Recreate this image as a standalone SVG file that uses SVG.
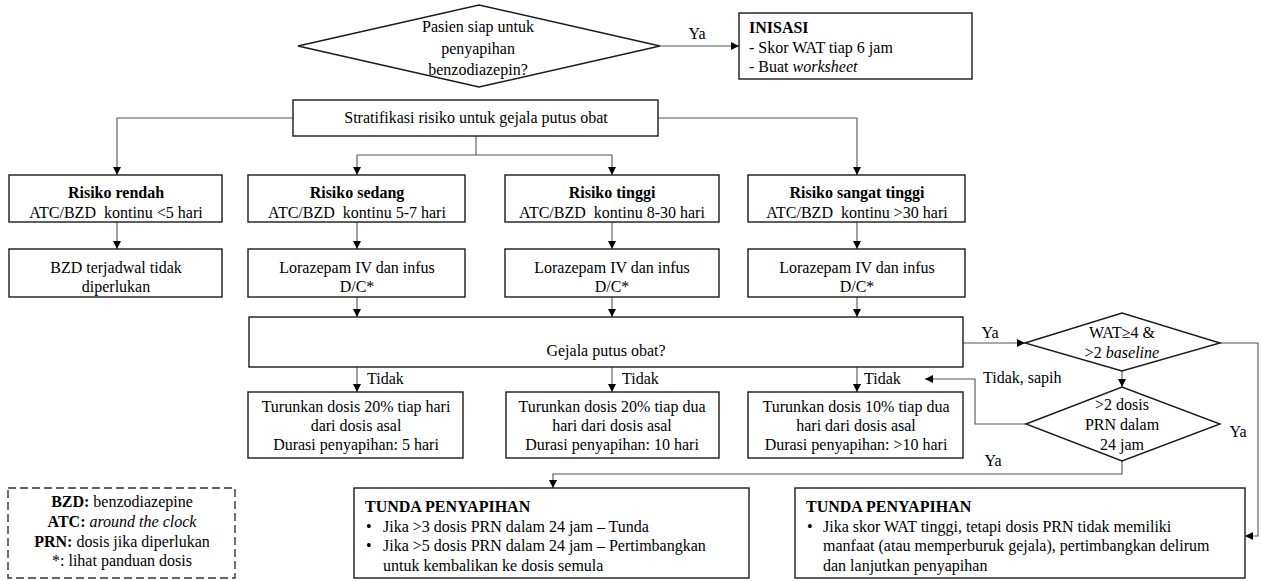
<svg xmlns="http://www.w3.org/2000/svg" width="1261" height="581" viewBox="0 0 1261 581" font-family="'Liberation Serif', 'DejaVu Serif', serif">
<defs>
<marker id="arr" viewBox="0 0 10 10" refX="10" refY="5" markerWidth="8" markerHeight="8" markerUnits="userSpaceOnUse" orient="auto">
<path d="M0,0 L10,5 L0,10 z" fill="#000"/>
</marker>
<style>
.box{fill:#fff;stroke:#1a1a1a;stroke-width:1.4}
.dash{fill:#fff;stroke:#333;stroke-width:1.4;stroke-dasharray:8 4}
.c{fill:none;stroke:#555;stroke-width:1.1;marker-end:url(#arr)}
.l{fill:none;stroke:#555;stroke-width:1.1}
text{font-family:'Liberation Serif','DejaVu Serif',serif;font-size:16px;fill:#000}
.m{text-anchor:middle}
.b{font-weight:bold}
.i{font-style:italic}
</style>
</defs>
<rect width="1261" height="581" fill="#fff"/>

<g id="connectors">
<path class="c" d="M660,46 L739,46"/>
<path class="c" d="M293,118 L117,118 L117,175"/>
<path class="c" d="M658,118 L857,118 L857,175"/>
<path class="l" d="M476,136 L476,155"/>
<path class="c" d="M476,155 L357,155 L357,175"/>
<path class="c" d="M476,155 L612,155 L612,175"/>
<path class="c" d="M117,222 L117,249"/>
<path class="c" d="M357,222 L357,249"/>
<path class="c" d="M612,222 L612,249"/>
<path class="c" d="M857,222 L857,249"/>
<path class="c" d="M357,297 L357,317"/>
<path class="c" d="M612,297 L612,317"/>
<path class="c" d="M857,297 L857,317"/>
<path class="c" d="M357,367 L357,392"/>
<path class="c" d="M612,367 L612,392"/>
<path class="c" d="M857,367 L857,392"/>
<path class="c" d="M963,343 L1025,343"/>
<path class="c" d="M1122,371 L1122,387"/>
<path class="c" d="M1220,343 L1258,343 L1258,536 L1245,536"/>
<path class="c" d="M1026,424 L975,424 L975,379 L925,379"/>
<path class="c" d="M1122,461 L1122,474 L553,474 L553,488"/>
<text x="697" y="39" class="m">Ya</text>
<text x="367" y="384">Tidak</text>
<text x="622" y="384">Tidak</text>
<text x="864" y="384">Tidak</text>
<text x="990" y="338" class="m">Ya</text>
<text x="983" y="383">Tidak, sapih</text>
<text x="1238" y="437" class="m">Ya</text>
<text x="993" y="466" class="m">Ya</text>
</g>

<g id="start">
<polygon class="box" points="298,46 479,5 660,46 479,87"/>
<text x="478" y="32" class="m">Pasien siap untuk</text>
<text x="478" y="54" class="m">penyapihan</text>
<text x="478" y="75" class="m">benzodiazepin?</text>
</g>

<g id="inisasi">
<rect class="box" x="739" y="13" width="233" height="66"/>
<text x="749" y="33" class="b">INISASI</text>
<text x="749" y="53">- Skor WAT tiap 6 jam</text>
<text x="749" y="72">- Buat <tspan class="i">worksheet</tspan></text>
</g>

<g id="stratifikasi">
<rect class="box" x="293" y="100" width="365" height="36"/>
<text x="476" y="123" class="m">Stratifikasi risiko untuk gejala putus obat</text>
</g>

<g id="risiko-rendah">
<rect class="box" x="9" y="175" width="213" height="47"/>
<text x="116" y="198" class="m b">Risiko rendah</text>
<text x="116" y="218" class="m">ATC/BZD&#160; kontinu &lt;5 hari</text>
</g>
<g id="risiko-sedang">
<rect class="box" x="248" y="175" width="217" height="47"/>
<text x="357" y="198" class="m b">Risiko sedang</text>
<text x="357" y="218" class="m">ATC/BZD&#160; kontinu 5-7 hari</text>
</g>
<g id="risiko-tinggi">
<rect class="box" x="505" y="175" width="214" height="47"/>
<text x="612" y="198" class="m b">Risiko tinggi</text>
<text x="612" y="218" class="m">ATC/BZD&#160; kontinu 8-30 hari</text>
</g>
<g id="risiko-sangat-tinggi">
<rect class="box" x="748" y="175" width="217" height="47"/>
<text x="857" y="198" class="m b">Risiko sangat tinggi</text>
<text x="857" y="218" class="m">ATC/BZD&#160; kontinu &gt;30 hari</text>
</g>

<g id="bzd-tidak">
<rect class="box" x="9" y="249" width="213" height="48"/>
<text x="116" y="273" class="m">BZD terjadwal tidak</text>
<text x="116" y="292" class="m">diperlukan</text>
</g>
<g id="lorazepam-1">
<rect class="box" x="248" y="249" width="217" height="48"/>
<text x="357" y="273" class="m">Lorazepam IV dan infus</text>
<text x="357" y="292" class="m">D/C*</text>
</g>
<g id="lorazepam-2">
<rect class="box" x="505" y="249" width="214" height="48"/>
<text x="612" y="273" class="m">Lorazepam IV dan infus</text>
<text x="612" y="292" class="m">D/C*</text>
</g>
<g id="lorazepam-3">
<rect class="box" x="748" y="249" width="217" height="48"/>
<text x="857" y="273" class="m">Lorazepam IV dan infus</text>
<text x="857" y="292" class="m">D/C*</text>
</g>

<g id="gejala">
<rect class="box" x="249" y="317" width="714" height="50"/>
<text x="606" y="356" class="m">Gejala putus obat?</text>
</g>

<g id="wat">
<polygon class="box" points="1025,343 1122,313 1220,343 1122,371"/>
<text x="1122" y="338" class="m">WAT≥4 &amp;</text>
<text x="1122" y="358" class="m">&gt;2 <tspan class="i">baseline</tspan></text>
</g>
<g id="prn">
<polygon class="box" points="1026,424 1122,387 1220,424 1122,461"/>
<text x="1122" y="410" class="m">&gt;2 dosis</text>
<text x="1122" y="430" class="m">PRN dalam</text>
<text x="1122" y="450" class="m">24 jam</text>
</g>

<g id="turunkan-1">
<rect class="box" x="248" y="392" width="215" height="66"/>
<text x="356" y="412" class="m">Turunkan dosis 20% tiap hari</text>
<text x="356" y="431" class="m">dari dosis asal</text>
<text x="356" y="450" class="m">Durasi penyapihan: 5 hari</text>
</g>
<g id="turunkan-2">
<rect class="box" x="506" y="392" width="213" height="66"/>
<text x="612" y="412" class="m">Turunkan dosis 20% tiap dua</text>
<text x="612" y="431" class="m">hari dari dosis asal</text>
<text x="612" y="450" class="m">Durasi penyapihan: 10 hari</text>
</g>
<g id="turunkan-3">
<rect class="box" x="748" y="392" width="215" height="66"/>
<text x="856" y="412" class="m">Turunkan dosis 10% tiap dua</text>
<text x="856" y="431" class="m">hari dari dosis asal</text>
<text x="856" y="450" class="m">Durasi penyapihan: &gt;10 hari</text>
</g>

<g id="legend">
<rect class="dash" x="8" y="488" width="227" height="90"/>
<text x="122" y="507" class="m"><tspan class="b">BZD:</tspan> benzodiazepine</text>
<text x="122" y="527" class="m"><tspan class="b">ATC:</tspan> <tspan class="i">around the clock</tspan></text>
<text x="122" y="547" class="m"><tspan class="b">PRN:</tspan> dosis jika diperlukan</text>
<text x="122" y="566" class="m">*: lihat panduan dosis</text>
</g>

<g id="tunda-1">
<rect class="box" x="354" y="488" width="395" height="90"/>
<text x="365" y="512" class="b">TUNDA PENYAPIHAN</text>
<text x="366" y="532">•</text>
<text x="383" y="532">Jika &gt;3 dosis PRN dalam 24 jam – Tunda</text>
<text x="366" y="551">•</text>
<text x="383" y="551">Jika &gt;5 dosis PRN dalam 24 jam – Pertimbangkan</text>
<text x="383" y="571">untuk kembalikan ke dosis semula</text>
</g>

<g id="tunda-2">
<rect class="box" x="795" y="488" width="450" height="90"/>
<text x="806" y="512" class="b">TUNDA PENYAPIHAN</text>
<text x="807" y="532">•</text>
<text x="823" y="532">Jika skor WAT tinggi, tetapi dosis PRN tidak memiliki</text>
<text x="823" y="551">manfaat (atau memperburuk gejala), pertimbangkan delirum</text>
<text x="823" y="571">dan lanjutkan penyapihan</text>
</g>
</svg>
